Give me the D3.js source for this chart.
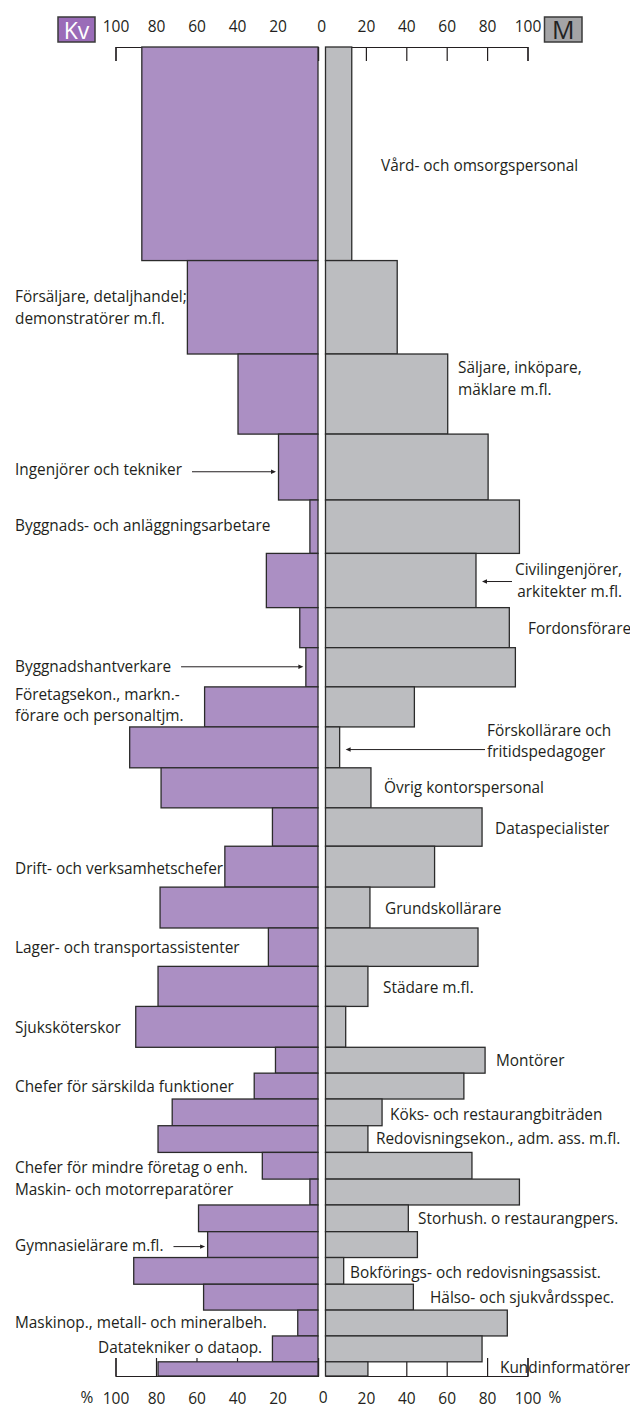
<!DOCTYPE html>
<html><head><meta charset="utf-8">
<script src="https://cdn.jsdelivr.net/npm/d3@7"></script>
<style>
body{margin:0;background:#fff;}
svg{display:block;}
</style></head><body>
<svg id="chart" width="630" height="1414"></svg>
<script>
// ---------------- DATA ----------------
const occupations = [
  "Vård- och omsorgspersonal",
  "Försäljare, detaljhandel;\ndemonstratörer m.fl.",
  "Säljare, inköpare,\nmäklare m.fl.",
  "Ingenjörer och tekniker",
  "Byggnads- och anläggningsarbetare",
  "Civilingenjörer,\narkitekter m.fl.",
  "Fordonsförare",
  "Byggnadshantverkare",
  "Företagsekon., markn.-\nförare och personaltjm.",
  "Förskollärare och\nfritidspedagoger",
  "Övrig kontorspersonal",
  "Dataspecialister",
  "Drift- och verksamhetschefer",
  "Grundskollärare",
  "Lager- och transportassistenter",
  "Städare m.fl.",
  "Sjuksköterskor",
  "Montörer",
  "Chefer för särskilda funktioner",
  "Köks- och restaurangbiträden",
  "Redovisningsekon., adm. ass. m.fl.",
  "Chefer för mindre företag o enh.",
  "Maskin- och motorreparatörer",
  "Storhush. o restaurangpers.",
  "Gymnasielärare m.fl.",
  "Bokförings- och redovisningsassist.",
  "Hälso- och sjukvårdsspec.",
  "Maskinop., metall- och mineralbeh.",
  "Datatekniker o dataop.",
  "Kundinformatörer"
];
// share of women (Kv) and men (M), percent
const womenPct = [87, 64.5, 39.5, 19.5, 4, 25.5, 9, 6, 56, 93, 77.5, 22.5, 46, 78, 24.5, 79, 90, 21, 31.5, 72, 79, 27.5, 4, 59, 54.5, 91, 56.5, 10, 22.5, 79];
const menPct   = [13, 35.5, 60.5, 80.5, 96, 74.5, 91, 94, 44, 7, 22.5, 77.5, 54, 22, 75.5, 21, 10, 79, 68.5, 28, 21, 72.5, 96, 41, 45.5, 9, 43.5, 90, 77.5, 21];
// number employed (thousands, estimated from bar thickness)
const employedThousands = [256, 112, 96, 79, 64, 65, 48, 47, 48, 49, 48, 46, 49, 49, 46, 48, 49, 31, 31, 32, 32, 32, 31, 32, 31, 32, 31, 31, 31, 17];
const tickValues = [0, 20, 40, 60, 80, 100];
const genderLabels = ["Kv", "M"];

// ---------------- LAYOUT (label placement) ----------------
// side, x, dy (text block centre offset from bar centre), anchor, arrow dy
const labelLayout = [
  {side:"R", x:381, dy:11.5},
  {side:"L", x:15,  dy:0},
  {side:"R", x:458, dy:-15.5},
  {side:"L", x:15,  dy:2,   arrow:4.7},
  {side:"L", x:15,  dy:-1.5},
  {side:"R", x:622, dy:0, anchor:"end", arrow:1},
  {side:"R", x:528, dy:1},
  {side:"L", x:15,  dy:-0.5, arrow:-0.5},
  {side:"L", x:15,  dy:-2},
  {side:"R", x:487, dy:-6.5, arrow:2.2},
  {side:"R", x:384, dy:0},
  {side:"R", x:495, dy:1},
  {side:"L", x:15,  dy:1.5},
  {side:"R", x:385, dy:0.5},
  {side:"L", x:15,  dy:0},
  {side:"R", x:383, dy:1},
  {side:"L", x:15,  dy:0.5},
  {side:"R", x:496, dy:0},
  {side:"L", x:15,  dy:0},
  {side:"R", x:390, dy:2.5},
  {side:"R", x:376, dy:-0.5},
  {side:"L", x:15,  dy:2},
  {side:"L", x:15,  dy:-2.7},
  {side:"R", x:418, dy:0.5},
  {side:"L", x:15,  dy:1, arrow:2},
  {side:"R", x:350, dy:1.2},
  {side:"R", x:430, dy:0},
  {side:"L", x:15,  dy:-0.3},
  {side:"L", x:98,  dy:-1},
  {side:"R", x:500, dy:-1}
];

const INK = "#231f20";
const FONT = '"Open Sans", "Noto Sans", sans-serif';
const svg = d3.select("#chart");

// scales
const xL = d3.scaleLinear().domain([0, 100]).range([318, 115.5]);
const xR = d3.scaleLinear().domain([0, 100]).range([325.5, 527.5]);
const cum = [0, ...d3.cumsum(employedThousands)];
const y = d3.scaleLinear().domain([0, cum[cum.length - 1]]).range([47, 1376]);

const data = occupations.map((name, i) => ({
  name, w: womenPct[i], m: menPct[i], y0: cum[i], y1: cum[i + 1], i
}));

// font fitting for labels
const probe = svg.append("text").attr("font-family", FONT).attr("font-size", 100);
const refs = [["Ingenjörer och tekniker", 166.5], ["Datatekniker o dataop.", 165], ["Försäljare, detaljhandel;", 171.7]];
const ratio = d3.mean(refs, ([s, w]) => { probe.text(s); return w / probe.node().getComputedTextLength(); });
probe.remove();
const labelSize = 100 * ratio;

// ---------------- FRAMES / AXES ----------------
function styleAxis(g) {
  g.attr("font-family", null).attr("font-size", null).attr("color", INK);
  g.selectAll("path, line").attr("stroke-width", 1.2);
  g.selectAll("text").attr("font-family", FONT).attr("font-size", 15.5).attr("fill", INK);
}
const fmt = d => d === 0 ? "" : d;
[xL, xR].forEach(sc => {
  svg.append("g").attr("transform", "translate(0,47)")
    .call(d3.axisTop(sc).tickValues(tickValues).tickFormat(fmt).tickSize(-14).tickSizeOuter(-14).tickPadding(15))
    .call(styleAxis);
  svg.append("g").attr("transform", "translate(0,1376)")
    .call(d3.axisBottom(sc).tickValues(tickValues).tickFormat(fmt).tickSize(-18).tickSizeOuter(-18).tickPadding(16.5))
    .call(styleAxis);
});
const x0mid = (xL(0) + xR(0)) / 2;
svg.append("text").attr("x", x0mid).attr("y", 32).attr("text-anchor", "middle")
  .attr("font-family", FONT).attr("font-size", 15.5).attr("fill", INK).text("0");
svg.append("text").attr("x", x0mid + 1.5).attr("y", 1403).attr("text-anchor", "middle")
  .attr("font-family", FONT).attr("font-size", 15.5).attr("fill", INK).text("0");
svg.append("text").attr("x", 87).attr("y", 1403).attr("text-anchor", "middle")
  .attr("font-family", FONT).attr("font-size", 15.5).attr("fill", INK).text("%");
svg.append("text").attr("x", 555).attr("y", 1403).attr("text-anchor", "middle")
  .attr("font-family", FONT).attr("font-size", 15.5).attr("fill", INK).text("%");

// ---------------- BARS ----------------
svg.append("g").selectAll("rect").data(data).join("rect")
  .attr("x", d => xL(d.w)).attr("width", d => xL(0) - xL(d.w))
  .attr("y", d => y(d.y0)).attr("height", d => y(d.y1) - y(d.y0))
  .attr("fill", "#ab8fc3").attr("stroke", "#2b2b2b").attr("stroke-width", 1.3);
svg.append("g").selectAll("rect").data(data).join("rect")
  .attr("x", xR(0)).attr("width", d => xR(d.m) - xR(0))
  .attr("y", d => y(d.y0)).attr("height", d => y(d.y1) - y(d.y0))
  .attr("fill", "#bcbdc0").attr("stroke", "#2b2b2b").attr("stroke-width", 1.3);

// ---------------- GENDER BOXES ----------------
const kv = svg.append("g");
kv.append("rect").attr("x", 58).attr("y", 17).attr("width", 37).attr("height", 25)
  .attr("fill", "#9a6cb8").attr("stroke", "#3a3a3a").attr("stroke-width", 1.5);
kv.append("text").attr("x", 76.5).attr("y", 38.5).attr("text-anchor", "middle")
  .attr("font-family", FONT).attr("font-size", 23).attr("fill", "#fff").text(genderLabels[0]);
const mb = svg.append("g");
mb.append("rect").attr("x", 544.5).attr("y", 17).attr("width", 37.5).attr("height", 25)
  .attr("fill", "#a4a4a6").attr("stroke", "#3a3a3a").attr("stroke-width", 1.5);
mb.append("text").attr("x", 563.2).attr("y", 39).attr("text-anchor", "middle")
  .attr("font-family", FONT).attr("font-size", 25).attr("fill", "#222").text(genderLabels[1]);

// ---------------- LABELS ----------------
const lineH = 21.5;
const lg = svg.append("g").attr("font-family", FONT).attr("font-size", labelSize).attr("fill", INK);
data.forEach((d, i) => {
  const L = labelLayout[i];
  const lines = d.name.split("\n");
  const cy = (y(d.y0) + y(d.y1)) / 2;
  const blockTop = cy + L.dy - (lines.length - 1) * lineH / 2;
  const t = lg.append("text").attr("text-anchor", L.anchor || "start");
  lines.forEach((ln, k) => {
    t.append("tspan").attr("x", L.x).attr("y", blockTop + k * lineH + labelSize * 0.36).text(ln);
  });
  if (L.arrow !== undefined) {
    const ay = cy + L.arrow;
    let x1, x2;
    if (L.side === "L") {
      const len = d3.max(t.selectAll("tspan").nodes(), n => n.getComputedTextLength());
      x1 = L.x + len + 10;
      x2 = xL(d.w) - 2.5;
    } else {
      x1 = (L.anchor === "end" ? 512 : L.x - 2);
      x2 = xR(d.m) + 6;
    }
    const dir = Math.sign(x2 - x1);
    lg.append("line").attr("x1", x1).attr("x2", x2 - dir * 4).attr("y1", ay).attr("y2", ay)
      .attr("stroke", INK).attr("stroke-width", 1);
    lg.append("path")
      .attr("d", `M${x2},${ay}L${x2 - dir * 5},${ay - 2.2}L${x2 - dir * 5},${ay + 2.2}Z`)
      .attr("fill", INK);
  }
});
</script>
</body></html>
